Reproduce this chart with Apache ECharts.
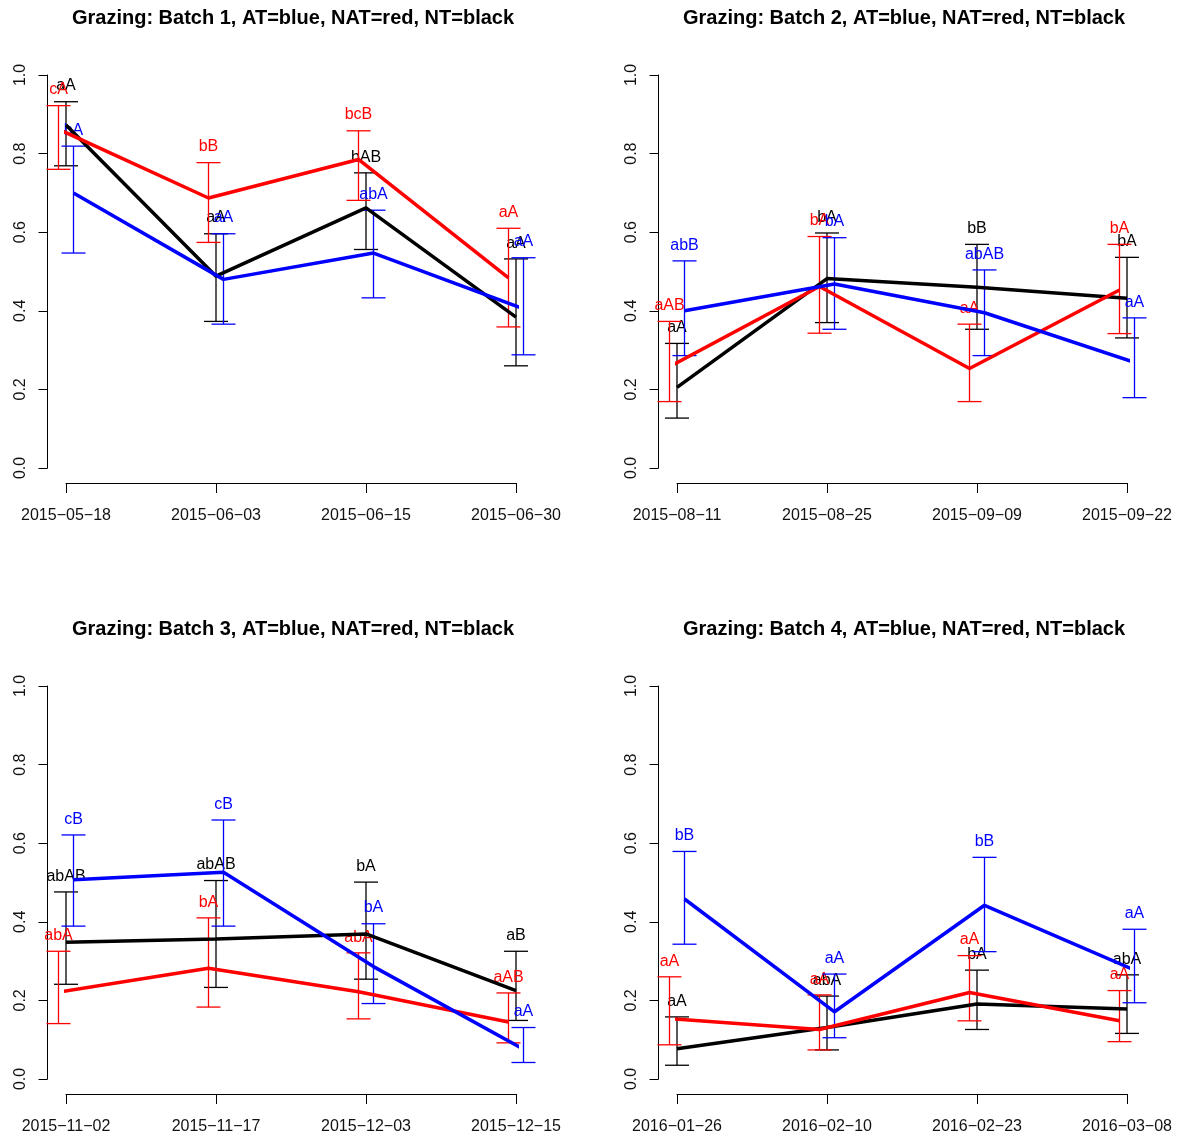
<!DOCTYPE html>
<html>
<head>
<meta charset="utf-8">
<title>Grazing batches</title>
<script src="https://cdn.jsdelivr.net/npm/echarts@6/dist/echarts.min.js"></script>
<style>
  html, body { margin: 0; padding: 0; background: #fff; }
  #chart { width: 1181px; height: 1138px; }
</style>
</head>
<body>
<div id="chart"></div>
<script>
// Sampling dates of each grazing batch
const batchDates = [
  ['2015-05-18', '2015-06-03', '2015-06-15', '2015-06-30'],
  ['2015-08-11', '2015-08-25', '2015-09-09', '2015-09-22'],
  ['2015-11-02', '2015-11-17', '2015-12-03', '2015-12-15'],
  ['2016-01-26', '2016-02-10', '2016-02-23', '2016-03-08']
];

// AT (blue): means, lower and upper limits, significance letters
const atMean = [
  [0.700, 0.480, 0.547, 0.405],
  [0.400, 0.468, 0.395, 0.269],
  [0.507, 0.526, 0.286, 0.076],
  [0.458, 0.171, 0.442, 0.277]
];
const atLow = [
  [0.547, 0.366, 0.433, 0.288],
  [0.286, 0.353, 0.286, 0.179],
  [0.389, 0.389, 0.192, 0.042],
  [0.343, 0.105, 0.324, 0.194]
];
const atHigh = [
  [0.819, 0.596, 0.656, 0.535],
  [0.527, 0.586, 0.504, 0.382],
  [0.621, 0.659, 0.395, 0.131],
  [0.579, 0.267, 0.564, 0.381]
];
const atLetters = [
  ['bA', 'aA', 'abA', 'aA'],
  ['abB', 'bA', 'abAB', 'aA'],
  ['cB', 'cB', 'bA', 'aA'],
  ['bB', 'aA', 'bB', 'aA']
];

// NAT (red)
const natMean = [
  [0.862, 0.687, 0.785, 0.484],
  [0.258, 0.462, 0.253, 0.453],
  [0.221, 0.282, 0.222, 0.145],
  [0.154, 0.126, 0.220, 0.148]
];
const natLow = [
  [0.760, 0.574, 0.681, 0.359],
  [0.169, 0.343, 0.169, 0.342],
  [0.141, 0.183, 0.153, 0.092],
  [0.087, 0.074, 0.148, 0.095]
];
const natHigh = [
  [0.922, 0.777, 0.858, 0.610],
  [0.373, 0.589, 0.366, 0.569],
  [0.325, 0.410, 0.321, 0.219],
  [0.260, 0.214, 0.314, 0.225]
];
const natLetters = [
  ['cA', 'bB', 'bcB', 'aA'],
  ['aAB', 'bA', 'aA', 'bA'],
  ['abA', 'bA', 'abA', 'aAB'],
  ['aA', 'aA', 'aA', 'aA']
];

// NT (black)
const ntMean = [
  [0.873, 0.488, 0.662, 0.384],
  [0.205, 0.482, 0.460, 0.432],
  [0.348, 0.356, 0.369, 0.225],
  [0.077, 0.131, 0.191, 0.178]
];
const ntLow = [
  [0.769, 0.373, 0.556, 0.260],
  [0.127, 0.370, 0.353, 0.331],
  [0.241, 0.233, 0.254, 0.149],
  [0.035, 0.074, 0.126, 0.116]
];
const ntHigh = [
  [0.932, 0.596, 0.751, 0.532],
  [0.317, 0.598, 0.569, 0.536],
  [0.476, 0.505, 0.501, 0.325],
  [0.158, 0.211, 0.277, 0.265]
];
const ntLetters = [
  ['aA', 'aA', 'bAB', 'aA'],
  ['aA', 'bA', 'bB', 'bA'],
  ['abAB', 'abAB', 'bA', 'aB'],
  ['aA', 'abA', 'bA', 'abA']
];

const FONT = '"Liberation Sans", Arial, Helvetica, sans-serif';

// Treatments drawn in this order (later ones on top), with a small horizontal dodge
const treatments = [
  { name: 'NT',  color: '#000000', dodge: 0.00, mean: ntMean,  low: ntLow,  high: ntHigh,  letters: ntLetters },
  { name: 'NAT', color: '#ff0000', dodge: -0.05, mean: natMean, low: natLow, high: natHigh, letters: natLetters },
  { name: 'AT',  color: '#0000ff', dodge: 0.05, mean: atMean,  low: atLow,  high: atHigh,  letters: atLetters }
];

// Panel placement (2 x 2)
const panelLeft = [66, 677, 66, 677];
const panelTop = [75, 75, 686, 686];
const plotW = 450;
const plotH = 393;

const grids = [], xAxes = [], yAxes = [], titles = [], series = [];

for (let b = 0; b < 4; b++) {
  grids.push({ left: panelLeft[b], top: panelTop[b], width: plotW, height: plotH, containLabel: false });
  titles.push({
    text: 'Grazing: Batch ' + (b + 1) + ', AT=blue, NAT=red, NT=black',
    left: panelLeft[b] + plotW / 2 - 3,
    top: panelTop[b] - 72,
    textAlign: 'center',
    textStyle: { fontFamily: FONT, fontSize: 20, fontWeight: 'bold', color: '#000' }
  });
  const dates = batchDates[b];
  xAxes.push({
    type: 'value', gridIndex: b, min: 1, max: 4, interval: 1,
    offset: 15,
    axisLine: { show: true, onZero: false, lineStyle: { color: '#000', width: 1 } },
    axisTick: { show: true, length: 10, lineStyle: { color: '#000', width: 1 } },
    splitLine: { show: false },
    axisLabel: {
      margin: 25, fontFamily: FONT, fontSize: 16, color: '#111',
      formatter: v => (Number.isInteger(v) && dates[v - 1]) ? dates[v - 1].replace(/-/g, '\u2212') : ''
    }
  });
  yAxes.push({
    type: 'value', gridIndex: b, min: 0, max: 1, interval: 0.2,
    offset: 18.5,
    axisLine: { show: true, lineStyle: { color: '#000', width: 1 } },
    axisTick: { show: true, length: 9, lineStyle: { color: '#000', width: 1 } },
    splitLine: { show: false },
    axisLabel: {
      rotate: 90, margin: 19, fontFamily: FONT, fontSize: 16, color: '#111',
      formatter: v => v.toFixed(1)
    }
  });

  // mean lines
  treatments.forEach(t => {
    series.push({
      type: 'line', name: t.name, xAxisIndex: b, yAxisIndex: b,
      clip: false, symbol: 'none', silent: true, animation: false,
      lineStyle: { color: t.color, width: 3.5 },
      data: t.mean[b].map((m, i) => [i + 1 + t.dodge, m])
    });
  });

  // error bars with significance letters above the upper cap
  treatments.forEach(t => {
    const letters = t.letters[b];
    series.push({
      type: 'custom', name: t.name + ' bars', xAxisIndex: b, yAxisIndex: b,
      clip: false, silent: true, animation: false,
      data: t.low[b].map((lo, i) => [i + 1 + t.dodge, lo, t.high[b][i]]),
      renderItem: (params, api) => {
        const x = api.value(0);
        const top = api.coord([x, api.value(2)]);
        const bot = api.coord([x, api.value(1)]);
        const lab = api.coord([x, api.value(2) + 0.04]);
        const cap = 12;
        const ls = { stroke: t.color, lineWidth: 1.3 };
        return {
          type: 'group',
          children: [
            { type: 'line', shape: { x1: top[0], y1: top[1], x2: bot[0], y2: bot[1] }, style: ls },
            { type: 'line', shape: { x1: top[0] - cap, y1: top[1], x2: top[0] + cap, y2: top[1] }, style: ls },
            { type: 'line', shape: { x1: bot[0] - cap, y1: bot[1], x2: bot[0] + cap, y2: bot[1] }, style: ls },
            {
              type: 'text', x: lab[0], y: lab[1],
              style: {
                text: letters[params.dataIndex], fill: t.color,
                font: '16px ' + FONT, align: 'center', verticalAlign: 'middle'
              }
            }
          ]
        };
      }
    });
  });
}

const chart = echarts.init(document.getElementById('chart'), null, { renderer: 'canvas' });
chart.setOption({
  backgroundColor: '#ffffff',
  animation: false,
  title: titles,
  grid: grids,
  xAxis: xAxes,
  yAxis: yAxes,
  series: series
});
</script>
</body>
</html>
